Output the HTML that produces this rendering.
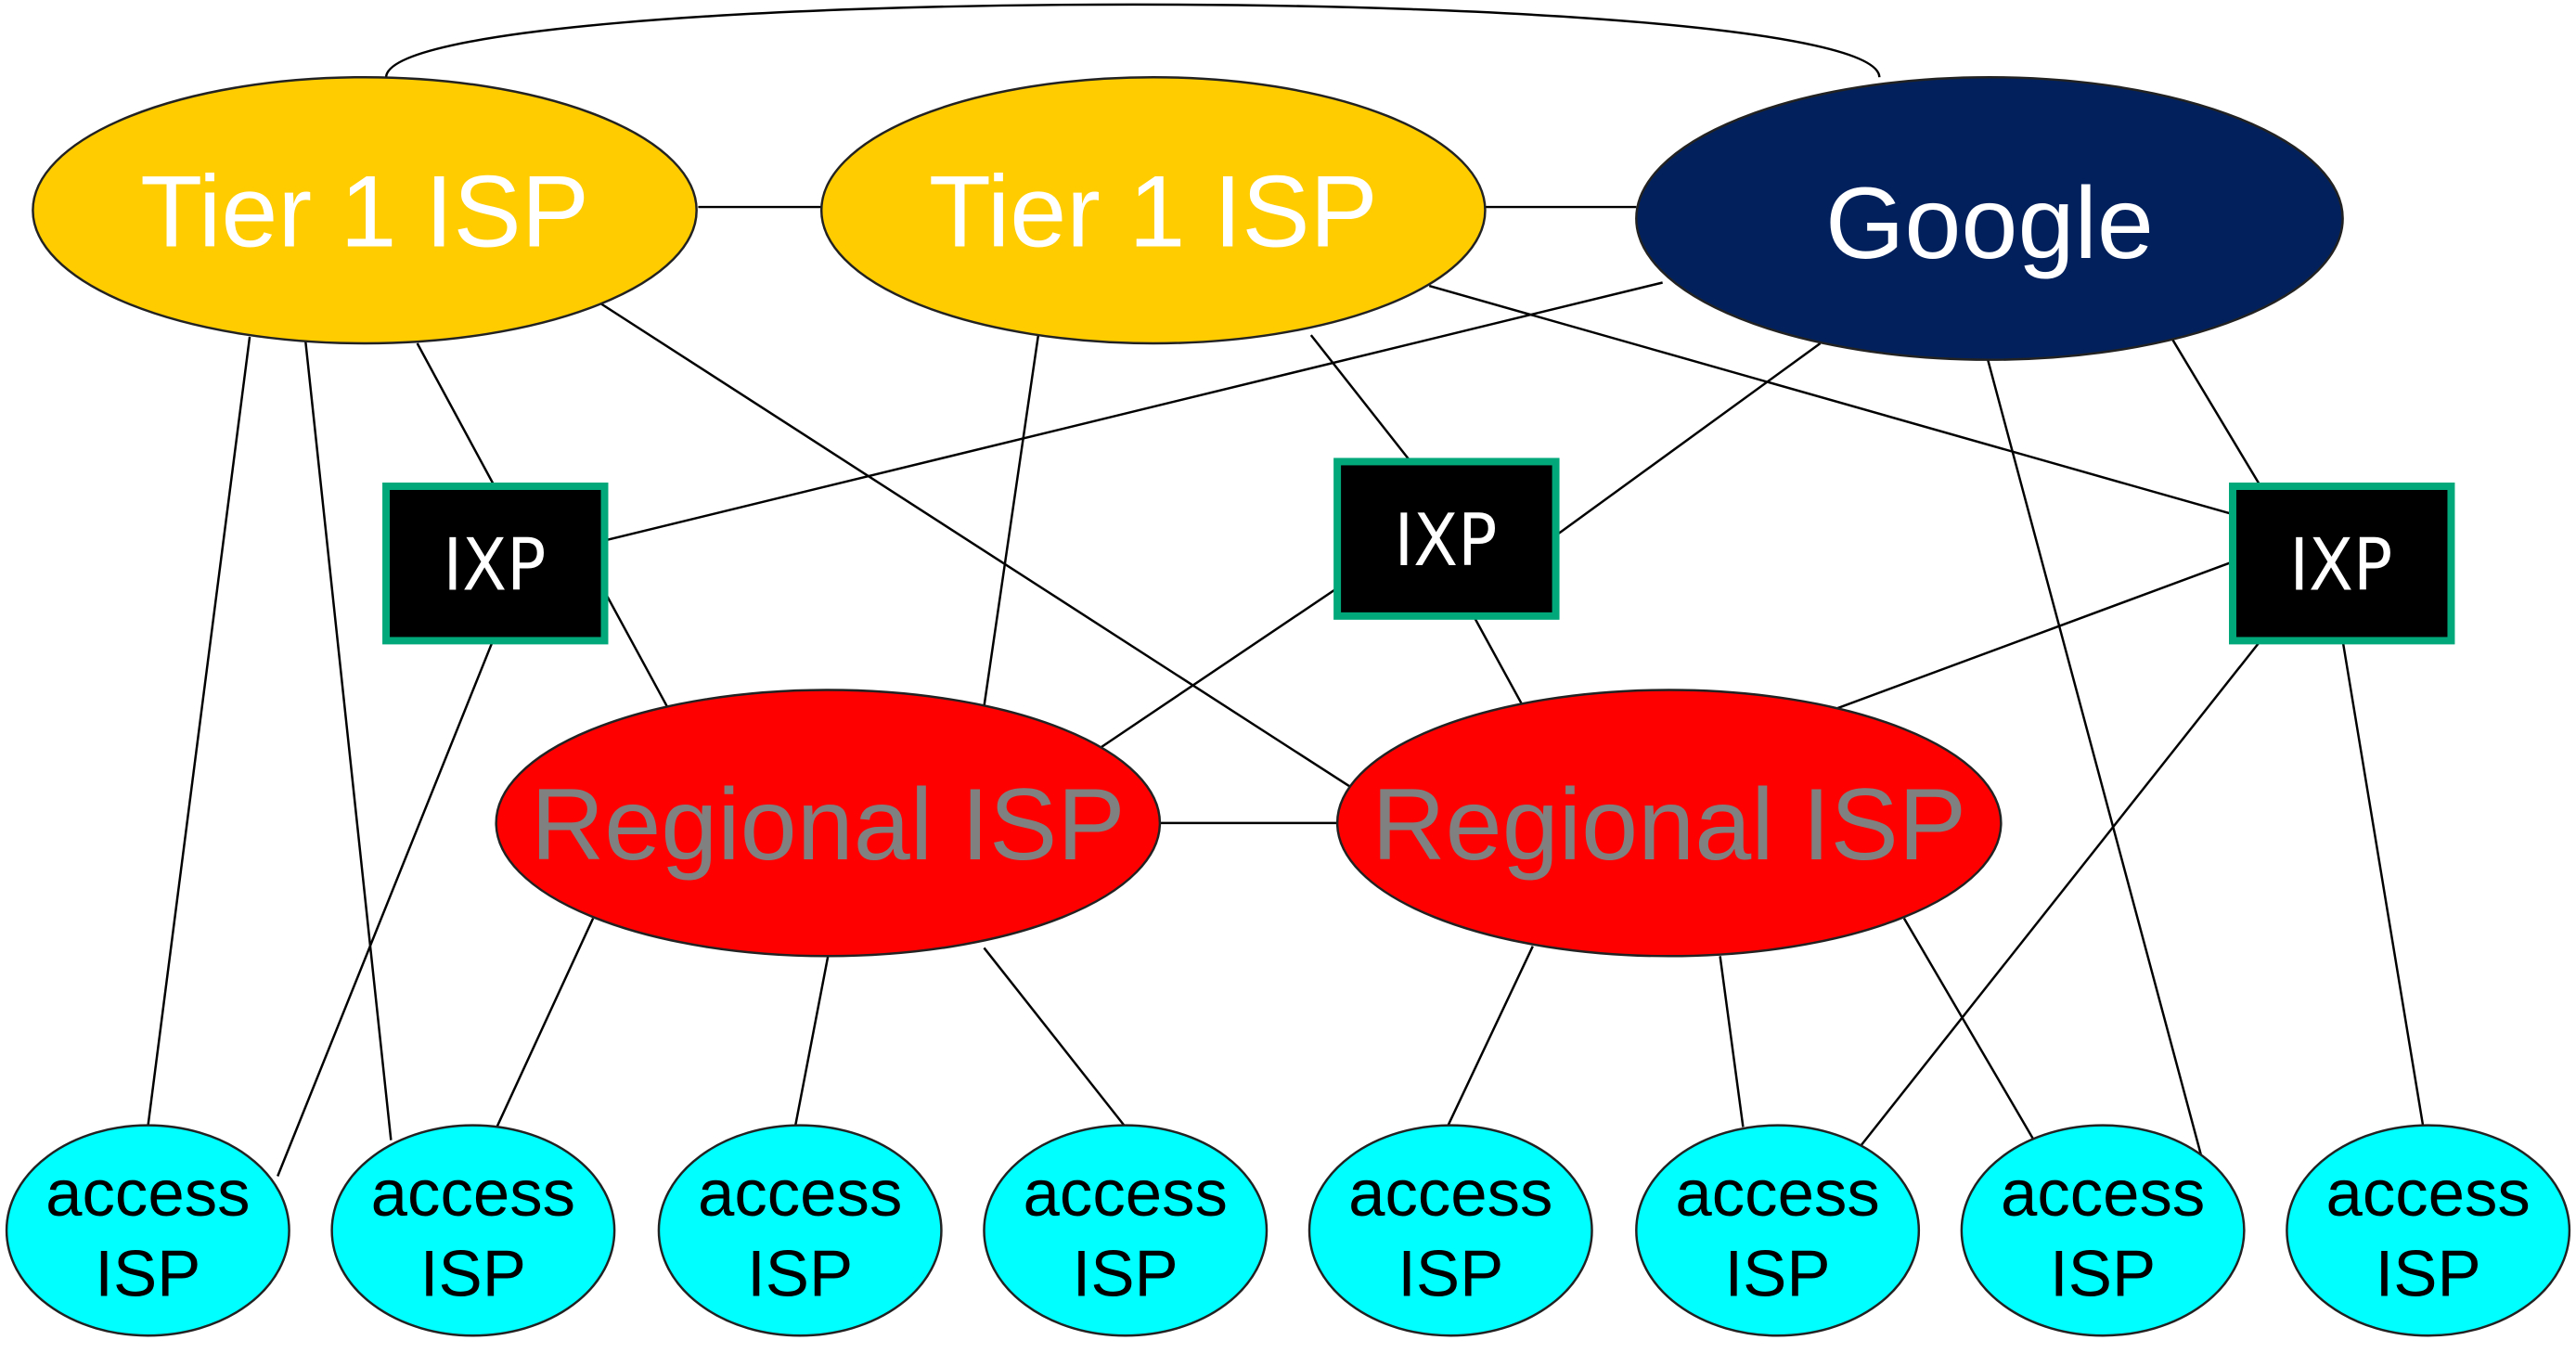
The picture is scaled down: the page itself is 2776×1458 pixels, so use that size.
<!DOCTYPE html>
<html><head><style>html,body{margin:0;padding:0;background:#fff}svg{display:block}</style></head>
<body>
<svg width="2776" height="1458" viewBox="0 0 1568 823.6" preserveAspectRatio="none" xmlns="http://www.w3.org/2000/svg">
<g stroke="#000" stroke-width="1.4" fill="none">
<path d="M235,47 C238,-12 1142,-12 1144,47"/>
<line x1="425" y1="126" x2="500" y2="126"/>
<line x1="904" y1="126" x2="996" y2="126"/>
<line x1="152" y1="205" x2="90" y2="686"/>
<line x1="186" y1="208" x2="238" y2="694"/>
<line x1="254" y1="209" x2="301" y2="296"/>
<line x1="366" y1="185" x2="822" y2="479"/>
<line x1="632" y1="204" x2="599" y2="430"/>
<line x1="798" y1="204" x2="861" y2="284"/>
<line x1="870" y1="174" x2="1359" y2="313"/>
<line x1="1012" y1="172" x2="368" y2="329"/>
<line x1="1108" y1="209" x2="947" y2="326"/>
<line x1="1322" y1="206" x2="1376" y2="296"/>
<line x1="1210" y1="219" x2="1340" y2="704"/>
<line x1="368" y1="360" x2="406" y2="430"/>
<line x1="300" y1="390" x2="169" y2="716"/>
<line x1="814" y1="358" x2="670" y2="455"/>
<line x1="897" y1="375" x2="926" y2="428"/>
<line x1="1359" y1="342" x2="1116" y2="432"/>
<line x1="1376" y1="390" x2="1133" y2="697"/>
<line x1="1426" y1="390" x2="1475" y2="686"/>
<line x1="706" y1="501" x2="814" y2="501"/>
<line x1="361" y1="559" x2="302" y2="687"/>
<line x1="504" y1="582" x2="484" y2="686"/>
<line x1="599" y1="577" x2="685" y2="686"/>
<line x1="933" y1="576" x2="881" y2="686"/>
<line x1="1047" y1="582" x2="1061" y2="686"/>
<line x1="1159" y1="559" x2="1238" y2="694"/>
</g>
<g stroke="#222" stroke-width="1.4">
<ellipse cx="222" cy="128" rx="202" ry="81" fill="#ffcc00"/>
<ellipse cx="702" cy="128" rx="202" ry="81" fill="#ffcc00"/>
<ellipse cx="1211" cy="133" rx="215" ry="86" fill="#02215c"/>
<ellipse cx="504" cy="501" rx="202" ry="81" fill="#ff0000"/>
<ellipse cx="1016" cy="501" rx="202" ry="81" fill="#ff0000"/>
</g>
<g stroke="#00a87a" stroke-width="4.5" fill="#000">
<rect x="235" y="296" width="133" height="94"/>
<rect x="814" y="281" width="133" height="94"/>
<rect x="1359" y="296" width="133" height="94"/>
</g>
<g font-family="Liberation Sans, sans-serif" text-anchor="middle">
<text x="222" y="150" font-size="62" fill="#fff">Tier 1 ISP</text>
<text x="702" y="150" font-size="62" fill="#fff">Tier 1 ISP</text>
<text x="1211" y="157" font-size="62" fill="#fff">Google</text>
<text x="504" y="523" font-size="62" fill="#808080">Regional ISP</text>
<text x="1016" y="523" font-size="62" fill="#808080">Regional ISP</text>
</g>
<g font-family="DejaVu Sans Condensed, DejaVu Sans, sans-serif" text-anchor="middle" font-size="44" fill="#fff">
<text x="301" y="359">IXP</text>
<text x="880" y="344">IXP</text>
<text x="1425" y="359">IXP</text>
</g>
<g stroke="#222" stroke-width="1.4" fill="#00ffff">
<ellipse cx="90" cy="749" rx="86" ry="64"/>
<ellipse cx="288" cy="749" rx="86" ry="64"/>
<ellipse cx="487" cy="749" rx="86" ry="64"/>
<ellipse cx="685" cy="749" rx="86" ry="64"/>
<ellipse cx="883" cy="749" rx="86" ry="64"/>
<ellipse cx="1082" cy="749" rx="86" ry="64"/>
<ellipse cx="1280" cy="749" rx="86" ry="64"/>
<ellipse cx="1478" cy="749" rx="86" ry="64"/>
</g>
<g font-family="Liberation Sans, sans-serif" text-anchor="middle" font-size="40" fill="#000">
<text x="90" y="740">access</text><text x="90" y="789">ISP</text>
<text x="288" y="740">access</text><text x="288" y="789">ISP</text>
<text x="487" y="740">access</text><text x="487" y="789">ISP</text>
<text x="685" y="740">access</text><text x="685" y="789">ISP</text>
<text x="883" y="740">access</text><text x="883" y="789">ISP</text>
<text x="1082" y="740">access</text><text x="1082" y="789">ISP</text>
<text x="1280" y="740">access</text><text x="1280" y="789">ISP</text>
<text x="1478" y="740">access</text><text x="1478" y="789">ISP</text>
</g>
</svg>
</body></html>
